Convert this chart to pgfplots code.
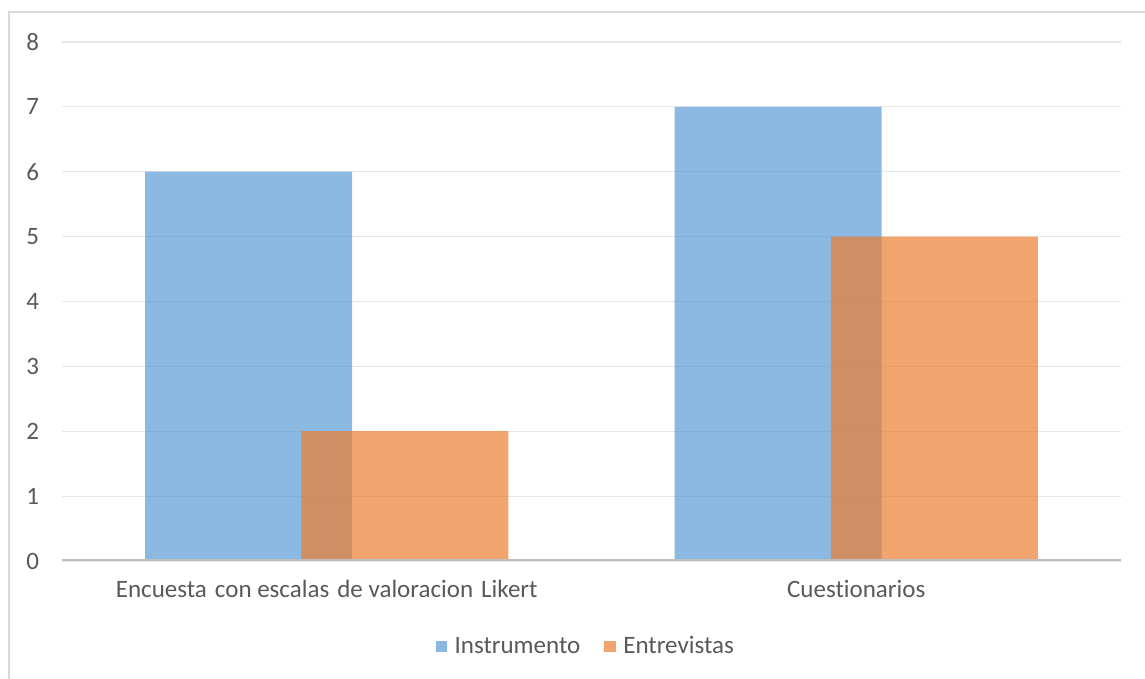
\documentclass[border=0pt]{standalone}
\usepackage{fontspec}
\setmainfont{Carlito}[Ligatures=NoCommon]
\usepackage{pgfplots}
\pgfplotsset{compat=1.18}
\definecolor{barblue}{HTML}{5B9BD5}
\definecolor{barorange}{HTML}{ED7D31}
\definecolor{labelgray}{HTML}{595959}
\definecolor{gridgray}{HTML}{E6E6E6}
\definecolor{axisgray}{HTML}{BFBFBF}
\definecolor{framegray}{HTML}{D9D9D9}
\newcommand{\wsp}{\ \hskip1.2pt}
\begin{document}
\begin{tikzpicture}
\useasboundingbox (-31pt,-59pt) rectangle (541.5pt,280.5pt);
\draw[framegray, line width=0.8pt] (-26.5pt,-59pt) -- (-26.5pt,274.5pt) -- (541.5pt,274.5pt);
\begin{axis}[
  scale only axis, width=529.5pt, height=259.5pt,
  at={(0,0)}, anchor=south west,
  xmin=-0.5, xmax=1.5, ymin=0, ymax=8,
  ytick={0,1,...,8}, xtick={0,1},
  xticklabels={Encuesta\wsp con escalas\wsp de valoracion\wsp Likert, Cuestionarios},
  axis line style={draw=none}, major tick length=0pt,
  ymajorgrids, grid style={gridgray, line width=0.6pt},
  font=\fontsize{12.5}{15}\selectfont,
  tick label style={labelgray},
  yticklabel style={anchor=east, xshift=-8pt},
  xticklabel style={anchor=north, yshift=-6pt},
  /pgf/number format/assume math mode=true,
  ybar, bar width=0.391,
  legend style={at={(0.4955,-0.1647)}, anchor=center, draw=none,
    legend columns=2, text=labelgray, font=\fontsize{12.5}{15}\selectfont,
    /tikz/every even column/.append style={column sep=10pt}},
  legend image code/.code={\fill[#1] (0pt,-2.9pt) rectangle (5.8pt,2.9pt);
    \path (0pt,0pt) -- (7.5pt,0pt);},
]
\addplot[fill=barblue, fill opacity=0.7, draw=none, bar shift=-0.1474]
  coordinates {(0,6) (1,7)};
\addplot[fill=barorange, fill opacity=0.7, draw=none, bar shift=0.1474]
  coordinates {(0,2) (1,5)};
\legend{Instrumento, Entrevistas}
\draw[axisgray, line width=1.6pt] (rel axis cs:0,0) -- (rel axis cs:1,0);
\end{axis}
\end{tikzpicture}
\end{document}
